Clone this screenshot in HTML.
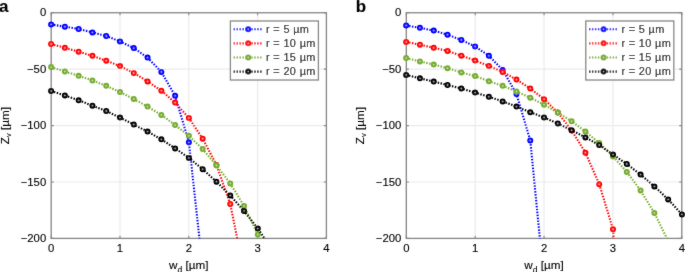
<!DOCTYPE html>
<html><head><meta charset="utf-8"><style>
html,body{margin:0;padding:0;background:#fff;}
body{width:685px;height:272px;overflow:hidden;}
svg{display:block;}
text{font-family:"Liberation Sans",sans-serif;font-size:11.3px;fill:#000;stroke:#000;stroke-width:0.12px;}
</style></head><body>
<svg width="685" height="272" viewBox="0 0 685 272">
<defs><filter id="bl" x="-5%" y="-5%" width="110%" height="110%"><feConvolveMatrix order="3" kernelMatrix="1 3 1 3 40 3 1 3 1" edgeMode="duplicate"/></filter></defs>
<rect width="685" height="272" fill="#fff"/>
<g filter="url(#bl)">
<clipPath id="c0"><rect x="51.2" y="12.75" width="275.2" height="225.65"/></clipPath>
<path d="M120 12.75V238.4M188.8 12.75V238.4M257.6 12.75V238.4M51.2 69.16H326.4M51.2 125.58H326.4M51.2 181.99H326.4" stroke="#ebebeb" stroke-width="1.2" fill="none"/>
<path d="M51.2 238.4v-2.6M51.2 12.75v2.6M120 238.4v-2.6M120 12.75v2.6M188.8 238.4v-2.6M188.8 12.75v2.6M257.6 238.4v-2.6M257.6 12.75v2.6M326.4 238.4v-2.6M326.4 12.75v2.6M51.2 12.75h2.6M326.4 12.75h-2.6M51.2 69.16h2.6M326.4 69.16h-2.6M51.2 125.58h2.6M326.4 125.58h-2.6M51.2 181.99h2.6M326.4 181.99h-2.6M51.2 238.4h2.6M326.4 238.4h-2.6" stroke="#858585" stroke-width="1.1" fill="none"/>
<rect x="51.2" y="12.75" width="275.2" height="225.65" fill="none" stroke="#858585" stroke-width="1.3"/>
<text x="51.2" y="252" text-anchor="middle">0</text>
<text x="120" y="252" text-anchor="middle">1</text>
<text x="188.8" y="252" text-anchor="middle">2</text>
<text x="257.6" y="252" text-anchor="middle">3</text>
<text x="326.4" y="252" text-anchor="middle">4</text>
<text x="46.2" y="16.35" text-anchor="end">0</text>
<text x="46.2" y="72.76" text-anchor="end">−50</text>
<text x="46.2" y="129.18" text-anchor="end">−100</text>
<text x="46.2" y="185.59" text-anchor="end">−150</text>
<text x="46.2" y="242" text-anchor="end">−200</text>
<text x="188.8" y="268.9" text-anchor="middle" style="font-size:11.7px">w<tspan style="font-size:8.5px" dy="3.6">d</tspan><tspan dy="-3.6"> [µm]</tspan></text>
<text transform="translate(8.7,125.58) rotate(-90)" x="0" y="0" text-anchor="middle" style="font-size:11.7px">Z<tspan style="font-size:7.6px" dy="2.6">v</tspan><tspan dy="-2.6"> [µm]</tspan></text>
<text x="-0.9" y="11.8" style="font-weight:bold;font-size:17px;fill:#000">a</text>
<path clip-path="url(#c0)" d="M51.1 24.4 L64.88 26.7 L78.66 29 L92.44 32.4 L106.22 36 L120 41.4 L133.78 48.1 L147.56 57.6 L161.34 71.9 L175.12 95.8 L188.9 142.3 L202.68 268" stroke="#0000ff" stroke-width="2.1" stroke-dasharray="1.45 1.5" fill="none"/>
<circle cx="51.1" cy="24.4" r="1.95" stroke="#0000ff" stroke-width="2.1" fill="#a0a0ff"/>
<circle cx="64.88" cy="26.7" r="1.95" stroke="#0000ff" stroke-width="2.1" fill="#a0a0ff"/>
<circle cx="78.66" cy="29" r="1.95" stroke="#0000ff" stroke-width="2.1" fill="#a0a0ff"/>
<circle cx="92.44" cy="32.4" r="1.95" stroke="#0000ff" stroke-width="2.1" fill="#a0a0ff"/>
<circle cx="106.22" cy="36" r="1.95" stroke="#0000ff" stroke-width="2.1" fill="#a0a0ff"/>
<circle cx="120" cy="41.4" r="1.95" stroke="#0000ff" stroke-width="2.1" fill="#a0a0ff"/>
<circle cx="133.78" cy="48.1" r="1.95" stroke="#0000ff" stroke-width="2.1" fill="#a0a0ff"/>
<circle cx="147.56" cy="57.6" r="1.95" stroke="#0000ff" stroke-width="2.1" fill="#a0a0ff"/>
<circle cx="161.34" cy="71.9" r="1.95" stroke="#0000ff" stroke-width="2.1" fill="#a0a0ff"/>
<circle cx="175.12" cy="95.8" r="1.95" stroke="#0000ff" stroke-width="2.1" fill="#a0a0ff"/>
<circle cx="188.9" cy="142.3" r="1.95" stroke="#0000ff" stroke-width="2.1" fill="#a0a0ff"/>
<path clip-path="url(#c0)" d="M51.1 44 L64.88 47.8 L78.66 51.7 L92.44 55.8 L106.22 60.7 L120 66.1 L133.78 73 L147.56 81.4 L161.34 90.7 L175.12 102.6 L188.9 118 L202.68 138.7 L216.46 165 L230.24 204 L244.02 272" stroke="#ff0000" stroke-width="2.1" stroke-dasharray="1.45 1.5" fill="none"/>
<circle cx="51.1" cy="44" r="1.95" stroke="#ff0000" stroke-width="2.1" fill="#ffa0a0"/>
<circle cx="64.88" cy="47.8" r="1.95" stroke="#ff0000" stroke-width="2.1" fill="#ffa0a0"/>
<circle cx="78.66" cy="51.7" r="1.95" stroke="#ff0000" stroke-width="2.1" fill="#ffa0a0"/>
<circle cx="92.44" cy="55.8" r="1.95" stroke="#ff0000" stroke-width="2.1" fill="#ffa0a0"/>
<circle cx="106.22" cy="60.7" r="1.95" stroke="#ff0000" stroke-width="2.1" fill="#ffa0a0"/>
<circle cx="120" cy="66.1" r="1.95" stroke="#ff0000" stroke-width="2.1" fill="#ffa0a0"/>
<circle cx="133.78" cy="73" r="1.95" stroke="#ff0000" stroke-width="2.1" fill="#ffa0a0"/>
<circle cx="147.56" cy="81.4" r="1.95" stroke="#ff0000" stroke-width="2.1" fill="#ffa0a0"/>
<circle cx="161.34" cy="90.7" r="1.95" stroke="#ff0000" stroke-width="2.1" fill="#ffa0a0"/>
<circle cx="175.12" cy="102.6" r="1.95" stroke="#ff0000" stroke-width="2.1" fill="#ffa0a0"/>
<circle cx="188.9" cy="118" r="1.95" stroke="#ff0000" stroke-width="2.1" fill="#ffa0a0"/>
<circle cx="202.68" cy="138.7" r="1.95" stroke="#ff0000" stroke-width="2.1" fill="#ffa0a0"/>
<circle cx="216.46" cy="165" r="1.95" stroke="#ff0000" stroke-width="2.1" fill="#ffa0a0"/>
<circle cx="230.24" cy="204" r="1.95" stroke="#ff0000" stroke-width="2.1" fill="#ffa0a0"/>
<path clip-path="url(#c0)" d="M51.1 67.1 L64.88 71.5 L78.66 75.8 L92.44 80.5 L106.22 85.8 L120 92.1 L133.78 99 L147.56 106.6 L161.34 114.9 L175.12 125 L188.9 135.8 L202.68 149.1 L216.46 165.4 L230.24 183.4 L244.02 205.9 L257.8 234.5 L271.58 266" stroke="#77ac30" stroke-width="2.1" stroke-dasharray="1.45 1.5" fill="none"/>
<circle cx="51.1" cy="67.1" r="1.95" stroke="#77ac30" stroke-width="2.1" fill="#c4dcaa"/>
<circle cx="64.88" cy="71.5" r="1.95" stroke="#77ac30" stroke-width="2.1" fill="#c4dcaa"/>
<circle cx="78.66" cy="75.8" r="1.95" stroke="#77ac30" stroke-width="2.1" fill="#c4dcaa"/>
<circle cx="92.44" cy="80.5" r="1.95" stroke="#77ac30" stroke-width="2.1" fill="#c4dcaa"/>
<circle cx="106.22" cy="85.8" r="1.95" stroke="#77ac30" stroke-width="2.1" fill="#c4dcaa"/>
<circle cx="120" cy="92.1" r="1.95" stroke="#77ac30" stroke-width="2.1" fill="#c4dcaa"/>
<circle cx="133.78" cy="99" r="1.95" stroke="#77ac30" stroke-width="2.1" fill="#c4dcaa"/>
<circle cx="147.56" cy="106.6" r="1.95" stroke="#77ac30" stroke-width="2.1" fill="#c4dcaa"/>
<circle cx="161.34" cy="114.9" r="1.95" stroke="#77ac30" stroke-width="2.1" fill="#c4dcaa"/>
<circle cx="175.12" cy="125" r="1.95" stroke="#77ac30" stroke-width="2.1" fill="#c4dcaa"/>
<circle cx="188.9" cy="135.8" r="1.95" stroke="#77ac30" stroke-width="2.1" fill="#c4dcaa"/>
<circle cx="202.68" cy="149.1" r="1.95" stroke="#77ac30" stroke-width="2.1" fill="#c4dcaa"/>
<circle cx="216.46" cy="165.4" r="1.95" stroke="#77ac30" stroke-width="2.1" fill="#c4dcaa"/>
<circle cx="230.24" cy="183.4" r="1.95" stroke="#77ac30" stroke-width="2.1" fill="#c4dcaa"/>
<circle cx="244.02" cy="205.9" r="1.95" stroke="#77ac30" stroke-width="2.1" fill="#c4dcaa"/>
<circle cx="257.8" cy="234.5" r="1.95" stroke="#77ac30" stroke-width="2.1" fill="#c4dcaa"/>
<path clip-path="url(#c0)" d="M51.1 91 L64.88 95.4 L78.66 100.3 L92.44 105.7 L106.22 111 L120 117.6 L133.78 124.5 L147.56 131.6 L161.34 139.3 L175.12 148.4 L188.9 157.9 L202.68 169.2 L216.46 181.7 L230.24 195.45 L244.02 210.9 L257.8 228.6 L271.58 249" stroke="#000000" stroke-width="2.1" stroke-dasharray="1.45 1.5" fill="none"/>
<circle cx="51.1" cy="91" r="1.95" stroke="#000000" stroke-width="2.1" fill="#a0a0a0"/>
<circle cx="64.88" cy="95.4" r="1.95" stroke="#000000" stroke-width="2.1" fill="#a0a0a0"/>
<circle cx="78.66" cy="100.3" r="1.95" stroke="#000000" stroke-width="2.1" fill="#a0a0a0"/>
<circle cx="92.44" cy="105.7" r="1.95" stroke="#000000" stroke-width="2.1" fill="#a0a0a0"/>
<circle cx="106.22" cy="111" r="1.95" stroke="#000000" stroke-width="2.1" fill="#a0a0a0"/>
<circle cx="120" cy="117.6" r="1.95" stroke="#000000" stroke-width="2.1" fill="#a0a0a0"/>
<circle cx="133.78" cy="124.5" r="1.95" stroke="#000000" stroke-width="2.1" fill="#a0a0a0"/>
<circle cx="147.56" cy="131.6" r="1.95" stroke="#000000" stroke-width="2.1" fill="#a0a0a0"/>
<circle cx="161.34" cy="139.3" r="1.95" stroke="#000000" stroke-width="2.1" fill="#a0a0a0"/>
<circle cx="175.12" cy="148.4" r="1.95" stroke="#000000" stroke-width="2.1" fill="#a0a0a0"/>
<circle cx="188.9" cy="157.9" r="1.95" stroke="#000000" stroke-width="2.1" fill="#a0a0a0"/>
<circle cx="202.68" cy="169.2" r="1.95" stroke="#000000" stroke-width="2.1" fill="#a0a0a0"/>
<circle cx="216.46" cy="181.7" r="1.95" stroke="#000000" stroke-width="2.1" fill="#a0a0a0"/>
<circle cx="230.24" cy="195.45" r="1.95" stroke="#000000" stroke-width="2.1" fill="#a0a0a0"/>
<circle cx="244.02" cy="210.9" r="1.95" stroke="#000000" stroke-width="2.1" fill="#a0a0a0"/>
<circle cx="257.8" cy="228.6" r="1.95" stroke="#000000" stroke-width="2.1" fill="#a0a0a0"/>
<rect x="230.4" y="21" width="88" height="59" fill="#fff" stroke="#858585" stroke-width="1.3"/>
<path d="M233.6 29.2H261.6" stroke="#0000ff" stroke-width="2.1" stroke-dasharray="1.45 1.5" fill="none"/>
<circle cx="248.2" cy="29.2" r="1.95" stroke="#0000ff" stroke-width="2.1" fill="#a0a0ff"/>
<text x="266" y="32.9" style="font-size:10.9px;letter-spacing:0.35px">r = 5 µm</text>
<path d="M233.6 43.33H261.6" stroke="#ff0000" stroke-width="2.1" stroke-dasharray="1.45 1.5" fill="none"/>
<circle cx="248.2" cy="43.33" r="1.95" stroke="#ff0000" stroke-width="2.1" fill="#ffa0a0"/>
<text x="266" y="47.03" style="font-size:10.9px;letter-spacing:0.35px">r = 10 µm</text>
<path d="M233.6 57.46H261.6" stroke="#77ac30" stroke-width="2.1" stroke-dasharray="1.45 1.5" fill="none"/>
<circle cx="248.2" cy="57.46" r="1.95" stroke="#77ac30" stroke-width="2.1" fill="#c4dcaa"/>
<text x="266" y="61.16" style="font-size:10.9px;letter-spacing:0.35px">r = 15 µm</text>
<path d="M233.6 71.59H261.6" stroke="#000000" stroke-width="2.1" stroke-dasharray="1.45 1.5" fill="none"/>
<circle cx="248.2" cy="71.59" r="1.95" stroke="#000000" stroke-width="2.1" fill="#a0a0a0"/>
<text x="266" y="75.29" style="font-size:10.9px;letter-spacing:0.35px">r = 20 µm</text>
<clipPath id="c1"><rect x="406.3" y="12.75" width="275.5" height="225.65"/></clipPath>
<path d="M475.18 12.75V238.4M544.05 12.75V238.4M612.92 12.75V238.4M406.3 69.16H681.8M406.3 125.58H681.8M406.3 181.99H681.8" stroke="#ebebeb" stroke-width="1.2" fill="none"/>
<path d="M406.3 238.4v-2.6M406.3 12.75v2.6M475.18 238.4v-2.6M475.18 12.75v2.6M544.05 238.4v-2.6M544.05 12.75v2.6M612.92 238.4v-2.6M612.92 12.75v2.6M681.8 238.4v-2.6M681.8 12.75v2.6M406.3 12.75h2.6M681.8 12.75h-2.6M406.3 69.16h2.6M681.8 69.16h-2.6M406.3 125.58h2.6M681.8 125.58h-2.6M406.3 181.99h2.6M681.8 181.99h-2.6M406.3 238.4h2.6M681.8 238.4h-2.6" stroke="#858585" stroke-width="1.1" fill="none"/>
<rect x="406.3" y="12.75" width="275.5" height="225.65" fill="none" stroke="#858585" stroke-width="1.3"/>
<text x="406.3" y="252" text-anchor="middle">0</text>
<text x="475.18" y="252" text-anchor="middle">1</text>
<text x="544.05" y="252" text-anchor="middle">2</text>
<text x="612.92" y="252" text-anchor="middle">3</text>
<text x="681.8" y="252" text-anchor="middle">4</text>
<text x="401.3" y="16.35" text-anchor="end">0</text>
<text x="401.3" y="72.76" text-anchor="end">−50</text>
<text x="401.3" y="129.18" text-anchor="end">−100</text>
<text x="401.3" y="185.59" text-anchor="end">−150</text>
<text x="401.3" y="242" text-anchor="end">−200</text>
<text x="544.05" y="268.9" text-anchor="middle" style="font-size:11.7px">w<tspan style="font-size:8.5px" dy="3.6">d</tspan><tspan dy="-3.6"> [µm]</tspan></text>
<text transform="translate(363.8,125.58) rotate(-90)" x="0" y="0" text-anchor="middle" style="font-size:11.7px">Z<tspan style="font-size:7.6px" dy="2.6">v</tspan><tspan dy="-2.6"> [µm]</tspan></text>
<text x="355.8" y="11.8" style="font-weight:bold;font-size:17px;fill:#000">b</text>
<path clip-path="url(#c1)" d="M406.15 25.4 L419.94 27.8 L433.73 30.6 L447.52 34.7 L461.31 39.9 L475.1 46.5 L488.89 55.8 L502.68 70 L516.47 94 L530.26 140.4 L544.05 281" stroke="#0000ff" stroke-width="2.1" stroke-dasharray="1.45 1.5" fill="none"/>
<circle cx="406.15" cy="25.4" r="1.95" stroke="#0000ff" stroke-width="2.1" fill="#a0a0ff"/>
<circle cx="419.94" cy="27.8" r="1.95" stroke="#0000ff" stroke-width="2.1" fill="#a0a0ff"/>
<circle cx="433.73" cy="30.6" r="1.95" stroke="#0000ff" stroke-width="2.1" fill="#a0a0ff"/>
<circle cx="447.52" cy="34.7" r="1.95" stroke="#0000ff" stroke-width="2.1" fill="#a0a0ff"/>
<circle cx="461.31" cy="39.9" r="1.95" stroke="#0000ff" stroke-width="2.1" fill="#a0a0ff"/>
<circle cx="475.1" cy="46.5" r="1.95" stroke="#0000ff" stroke-width="2.1" fill="#a0a0ff"/>
<circle cx="488.89" cy="55.8" r="1.95" stroke="#0000ff" stroke-width="2.1" fill="#a0a0ff"/>
<circle cx="502.68" cy="70" r="1.95" stroke="#0000ff" stroke-width="2.1" fill="#a0a0ff"/>
<circle cx="516.47" cy="94" r="1.95" stroke="#0000ff" stroke-width="2.1" fill="#a0a0ff"/>
<circle cx="530.26" cy="140.4" r="1.95" stroke="#0000ff" stroke-width="2.1" fill="#a0a0ff"/>
<path clip-path="url(#c1)" d="M406.15 41.9 L419.94 44.7 L433.73 47.8 L447.52 50.9 L461.31 55.65 L475.1 60.55 L488.89 65.95 L502.68 71.95 L516.47 79.55 L530.26 88.45 L544.05 99.15 L557.84 112.6 L571.63 130.4 L585.42 152.65 L599.21 184.15 L613 229.2 L626.79 380" stroke="#ff0000" stroke-width="2.1" stroke-dasharray="1.45 1.5" fill="none"/>
<circle cx="406.15" cy="41.9" r="1.95" stroke="#ff0000" stroke-width="2.1" fill="#ffa0a0"/>
<circle cx="419.94" cy="44.7" r="1.95" stroke="#ff0000" stroke-width="2.1" fill="#ffa0a0"/>
<circle cx="433.73" cy="47.8" r="1.95" stroke="#ff0000" stroke-width="2.1" fill="#ffa0a0"/>
<circle cx="447.52" cy="50.9" r="1.95" stroke="#ff0000" stroke-width="2.1" fill="#ffa0a0"/>
<circle cx="461.31" cy="55.65" r="1.95" stroke="#ff0000" stroke-width="2.1" fill="#ffa0a0"/>
<circle cx="475.1" cy="60.55" r="1.95" stroke="#ff0000" stroke-width="2.1" fill="#ffa0a0"/>
<circle cx="488.89" cy="65.95" r="1.95" stroke="#ff0000" stroke-width="2.1" fill="#ffa0a0"/>
<circle cx="502.68" cy="71.95" r="1.95" stroke="#ff0000" stroke-width="2.1" fill="#ffa0a0"/>
<circle cx="516.47" cy="79.55" r="1.95" stroke="#ff0000" stroke-width="2.1" fill="#ffa0a0"/>
<circle cx="530.26" cy="88.45" r="1.95" stroke="#ff0000" stroke-width="2.1" fill="#ffa0a0"/>
<circle cx="544.05" cy="99.15" r="1.95" stroke="#ff0000" stroke-width="2.1" fill="#ffa0a0"/>
<circle cx="557.84" cy="112.6" r="1.95" stroke="#ff0000" stroke-width="2.1" fill="#ffa0a0"/>
<circle cx="571.63" cy="130.4" r="1.95" stroke="#ff0000" stroke-width="2.1" fill="#ffa0a0"/>
<circle cx="585.42" cy="152.65" r="1.95" stroke="#ff0000" stroke-width="2.1" fill="#ffa0a0"/>
<circle cx="599.21" cy="184.15" r="1.95" stroke="#ff0000" stroke-width="2.1" fill="#ffa0a0"/>
<circle cx="613" cy="229.2" r="1.95" stroke="#ff0000" stroke-width="2.1" fill="#ffa0a0"/>
<path clip-path="url(#c1)" d="M406.15 58.1 L419.94 61.4 L433.73 64.6 L447.52 68.2 L461.31 72.4 L475.1 76.1 L488.89 81.3 L502.68 85.8 L516.47 91.5 L530.26 97.7 L544.05 104.7 L557.84 112.6 L571.63 121.25 L585.42 131.55 L599.21 143.1 L613 156.4 L626.79 171.95 L640.58 190.45 L654.37 212.95 L668.16 241" stroke="#77ac30" stroke-width="2.1" stroke-dasharray="1.45 1.5" fill="none"/>
<circle cx="406.15" cy="58.1" r="1.95" stroke="#77ac30" stroke-width="2.1" fill="#c4dcaa"/>
<circle cx="419.94" cy="61.4" r="1.95" stroke="#77ac30" stroke-width="2.1" fill="#c4dcaa"/>
<circle cx="433.73" cy="64.6" r="1.95" stroke="#77ac30" stroke-width="2.1" fill="#c4dcaa"/>
<circle cx="447.52" cy="68.2" r="1.95" stroke="#77ac30" stroke-width="2.1" fill="#c4dcaa"/>
<circle cx="461.31" cy="72.4" r="1.95" stroke="#77ac30" stroke-width="2.1" fill="#c4dcaa"/>
<circle cx="475.1" cy="76.1" r="1.95" stroke="#77ac30" stroke-width="2.1" fill="#c4dcaa"/>
<circle cx="488.89" cy="81.3" r="1.95" stroke="#77ac30" stroke-width="2.1" fill="#c4dcaa"/>
<circle cx="502.68" cy="85.8" r="1.95" stroke="#77ac30" stroke-width="2.1" fill="#c4dcaa"/>
<circle cx="516.47" cy="91.5" r="1.95" stroke="#77ac30" stroke-width="2.1" fill="#c4dcaa"/>
<circle cx="530.26" cy="97.7" r="1.95" stroke="#77ac30" stroke-width="2.1" fill="#c4dcaa"/>
<circle cx="544.05" cy="104.7" r="1.95" stroke="#77ac30" stroke-width="2.1" fill="#c4dcaa"/>
<circle cx="557.84" cy="112.6" r="1.95" stroke="#77ac30" stroke-width="2.1" fill="#c4dcaa"/>
<circle cx="571.63" cy="121.25" r="1.95" stroke="#77ac30" stroke-width="2.1" fill="#c4dcaa"/>
<circle cx="585.42" cy="131.55" r="1.95" stroke="#77ac30" stroke-width="2.1" fill="#c4dcaa"/>
<circle cx="599.21" cy="143.1" r="1.95" stroke="#77ac30" stroke-width="2.1" fill="#c4dcaa"/>
<circle cx="613" cy="156.4" r="1.95" stroke="#77ac30" stroke-width="2.1" fill="#c4dcaa"/>
<circle cx="626.79" cy="171.95" r="1.95" stroke="#77ac30" stroke-width="2.1" fill="#c4dcaa"/>
<circle cx="640.58" cy="190.45" r="1.95" stroke="#77ac30" stroke-width="2.1" fill="#c4dcaa"/>
<circle cx="654.37" cy="212.95" r="1.95" stroke="#77ac30" stroke-width="2.1" fill="#c4dcaa"/>
<path clip-path="url(#c1)" d="M406.15 74.9 L419.94 78.3 L433.73 81.6 L447.52 85 L461.31 88.5 L475.1 92.6 L488.89 96.8 L502.68 101.4 L516.47 106.6 L530.26 112.2 L544.05 117.5 L557.84 123.5 L571.63 130.2 L585.42 137.4 L599.21 145 L613 154.6 L626.79 164 L640.58 174.6 L654.37 186.4 L668.16 199.4 L681.95 214.4" stroke="#000000" stroke-width="2.1" stroke-dasharray="1.45 1.5" fill="none"/>
<circle cx="406.15" cy="74.9" r="1.95" stroke="#000000" stroke-width="2.1" fill="#a0a0a0"/>
<circle cx="419.94" cy="78.3" r="1.95" stroke="#000000" stroke-width="2.1" fill="#a0a0a0"/>
<circle cx="433.73" cy="81.6" r="1.95" stroke="#000000" stroke-width="2.1" fill="#a0a0a0"/>
<circle cx="447.52" cy="85" r="1.95" stroke="#000000" stroke-width="2.1" fill="#a0a0a0"/>
<circle cx="461.31" cy="88.5" r="1.95" stroke="#000000" stroke-width="2.1" fill="#a0a0a0"/>
<circle cx="475.1" cy="92.6" r="1.95" stroke="#000000" stroke-width="2.1" fill="#a0a0a0"/>
<circle cx="488.89" cy="96.8" r="1.95" stroke="#000000" stroke-width="2.1" fill="#a0a0a0"/>
<circle cx="502.68" cy="101.4" r="1.95" stroke="#000000" stroke-width="2.1" fill="#a0a0a0"/>
<circle cx="516.47" cy="106.6" r="1.95" stroke="#000000" stroke-width="2.1" fill="#a0a0a0"/>
<circle cx="530.26" cy="112.2" r="1.95" stroke="#000000" stroke-width="2.1" fill="#a0a0a0"/>
<circle cx="544.05" cy="117.5" r="1.95" stroke="#000000" stroke-width="2.1" fill="#a0a0a0"/>
<circle cx="557.84" cy="123.5" r="1.95" stroke="#000000" stroke-width="2.1" fill="#a0a0a0"/>
<circle cx="571.63" cy="130.2" r="1.95" stroke="#000000" stroke-width="2.1" fill="#a0a0a0"/>
<circle cx="585.42" cy="137.4" r="1.95" stroke="#000000" stroke-width="2.1" fill="#a0a0a0"/>
<circle cx="599.21" cy="145" r="1.95" stroke="#000000" stroke-width="2.1" fill="#a0a0a0"/>
<circle cx="613" cy="154.6" r="1.95" stroke="#000000" stroke-width="2.1" fill="#a0a0a0"/>
<circle cx="626.79" cy="164" r="1.95" stroke="#000000" stroke-width="2.1" fill="#a0a0a0"/>
<circle cx="640.58" cy="174.6" r="1.95" stroke="#000000" stroke-width="2.1" fill="#a0a0a0"/>
<circle cx="654.37" cy="186.4" r="1.95" stroke="#000000" stroke-width="2.1" fill="#a0a0a0"/>
<circle cx="668.16" cy="199.4" r="1.95" stroke="#000000" stroke-width="2.1" fill="#a0a0a0"/>
<circle cx="681.95" cy="214.4" r="1.95" stroke="#000000" stroke-width="2.1" fill="#a0a0a0"/>
<rect x="585.8" y="21" width="88" height="59" fill="#fff" stroke="#858585" stroke-width="1.3"/>
<path d="M589 29.2H617" stroke="#0000ff" stroke-width="2.1" stroke-dasharray="1.45 1.5" fill="none"/>
<circle cx="603.6" cy="29.2" r="1.95" stroke="#0000ff" stroke-width="2.1" fill="#a0a0ff"/>
<text x="621.4" y="32.9" style="font-size:10.9px;letter-spacing:0.35px">r = 5 µm</text>
<path d="M589 43.33H617" stroke="#ff0000" stroke-width="2.1" stroke-dasharray="1.45 1.5" fill="none"/>
<circle cx="603.6" cy="43.33" r="1.95" stroke="#ff0000" stroke-width="2.1" fill="#ffa0a0"/>
<text x="621.4" y="47.03" style="font-size:10.9px;letter-spacing:0.35px">r = 10 µm</text>
<path d="M589 57.46H617" stroke="#77ac30" stroke-width="2.1" stroke-dasharray="1.45 1.5" fill="none"/>
<circle cx="603.6" cy="57.46" r="1.95" stroke="#77ac30" stroke-width="2.1" fill="#c4dcaa"/>
<text x="621.4" y="61.16" style="font-size:10.9px;letter-spacing:0.35px">r = 15 µm</text>
<path d="M589 71.59H617" stroke="#000000" stroke-width="2.1" stroke-dasharray="1.45 1.5" fill="none"/>
<circle cx="603.6" cy="71.59" r="1.95" stroke="#000000" stroke-width="2.1" fill="#a0a0a0"/>
<text x="621.4" y="75.29" style="font-size:10.9px;letter-spacing:0.35px">r = 20 µm</text>
</g>
</svg>
</body></html>
